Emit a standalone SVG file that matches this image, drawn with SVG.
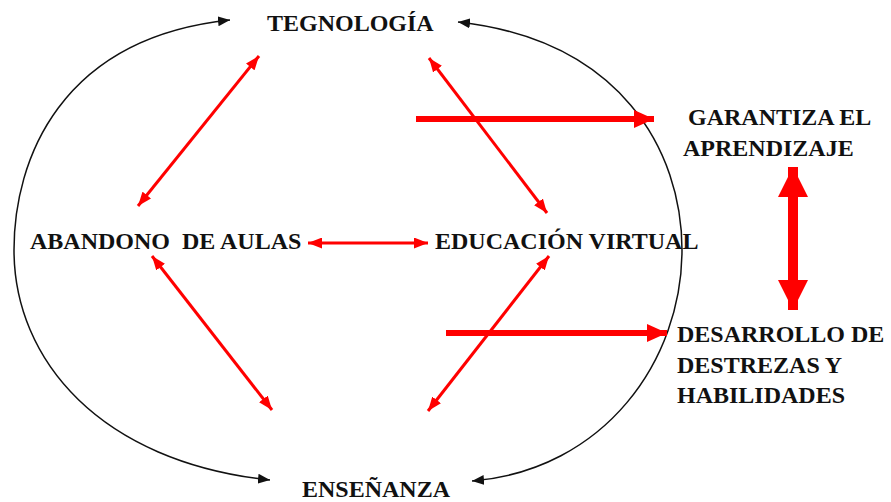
<svg xmlns="http://www.w3.org/2000/svg" width="891" height="502" viewBox="0 0 891 502">
<style>
.lbl{font-family:"Liberation Serif","Times New Roman",serif;font-weight:bold;font-size:24px;fill:#111}
.arc{fill:none;stroke:#111;stroke-width:1.5}
.thin{stroke:#ff0000;stroke-width:3;fill:none}
.thick{stroke:#ff0000;stroke-width:6;fill:none}
.vert{stroke:#ff0000;stroke-width:10;fill:none}
</style>
<defs>
<marker id="blk" markerUnits="userSpaceOnUse" markerWidth="12" markerHeight="10" refX="12" refY="5" orient="auto-start-reverse" viewBox="0 0 12 10"><path d="M0,0 L12,5 L0,10 z" fill="#111"/></marker>
<marker id="rt" markerUnits="userSpaceOnUse" markerWidth="14" markerHeight="11" refX="14" refY="5.5" orient="auto-start-reverse" viewBox="0 0 14 11"><path d="M0,0 L14,5.5 L0,11 z" fill="#ff0000"/></marker>
<marker id="rk" markerUnits="userSpaceOnUse" markerWidth="20" markerHeight="18" refX="20" refY="9" orient="auto-start-reverse" viewBox="0 0 20 18"><path d="M0,0 L20,9 L0,18 z" fill="#ff0000"/></marker>
<marker id="rv" markerUnits="userSpaceOnUse" markerWidth="30" markerHeight="30" refX="30" refY="15" orient="auto-start-reverse" viewBox="0 0 30 30"><path d="M0,0 L30,15 L0,30 z" fill="#ff0000"/></marker>
</defs>
<g id="connectors">
<path class="arc" d="M230 20 C60 38, 14 160, 14 250 C14 360, 100 462, 270 480" marker-start="url(#blk)" marker-end="url(#blk)"/>
<path class="arc" d="M458 22 C620 40, 682 150, 682 250 C682 360, 605 470, 472 481" marker-start="url(#blk)" marker-end="url(#blk)"/>
<line class="thin" x1="259" y1="56" x2="138" y2="206" marker-start="url(#rt)" marker-end="url(#rt)"/>
<line class="thin" x1="429" y1="58" x2="547" y2="213" marker-start="url(#rt)" marker-end="url(#rt)"/>
<line class="thin" x1="308" y1="243" x2="428" y2="243" marker-start="url(#rt)" marker-end="url(#rt)"/>
<line class="thin" x1="152" y1="256" x2="272" y2="410" marker-start="url(#rt)" marker-end="url(#rt)"/>
<line class="thin" x1="549" y1="256" x2="428" y2="411" marker-start="url(#rt)" marker-end="url(#rt)"/>
<line class="thick" x1="416" y1="119" x2="654" y2="119" marker-end="url(#rk)"/>
<line class="thick" x1="446" y1="333" x2="667" y2="333" marker-end="url(#rk)"/>
<line class="vert" x1="793" y1="167" x2="793" y2="310" marker-start="url(#rv)" marker-end="url(#rv)"/>
</g>
<g id="tegnologia"><text class="lbl" x="267" y="31">TEGNOLOGÍA</text></g>
<g id="abandono"><text class="lbl" x="30" y="249" xml:space="preserve">ABANDONO  DE AULAS</text></g>
<g id="educacion"><text class="lbl" x="435" y="249">EDUCACIÓN VIRTUAL</text></g>
<g id="ensenanza"><text class="lbl" x="302" y="497">ENSEÑANZA</text></g>
<g id="garantiza"><text class="lbl" x="688" y="125">GARANTIZA EL</text><text class="lbl" x="683" y="156">APRENDIZAJE</text></g>
<g id="desarrollo"><text class="lbl" x="677" y="342">DESARROLLO DE</text><text class="lbl" x="677" y="373">DESTREZAS Y</text><text class="lbl" x="677" y="403">HABILIDADES</text></g>
</svg>
